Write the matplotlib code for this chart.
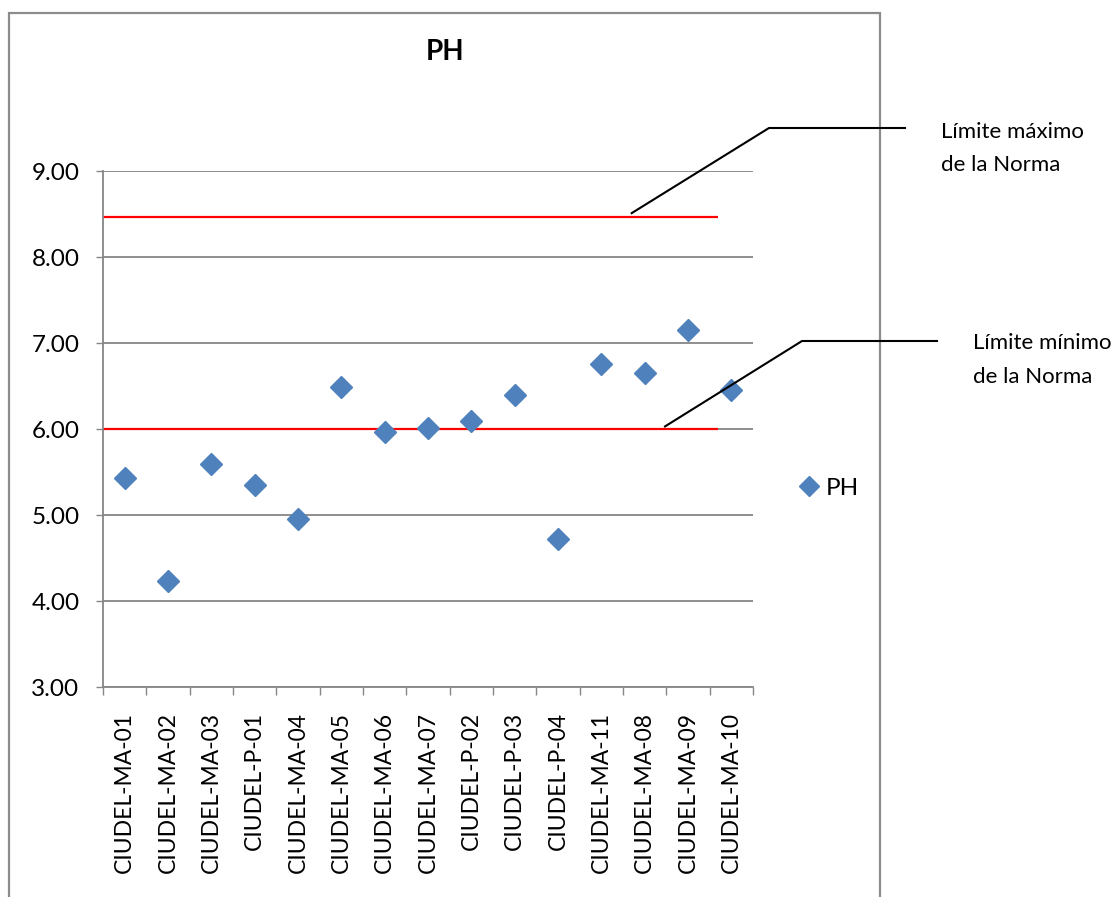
import matplotlib
matplotlib.use("Agg")
import matplotlib.pyplot as plt
from matplotlib.lines import Line2D
from matplotlib.patches import Rectangle

plt.rcParams['font.family'] = ['Lato', 'DejaVu Sans']

# Sampling points and measured pH
stations = ["CIUDEL-MA-01", "CIUDEL-MA-02", "CIUDEL-MA-03", "CIUDEL-P-01",
            "CIUDEL-MA-04", "CIUDEL-MA-05", "CIUDEL-MA-06", "CIUDEL-MA-07",
            "CIUDEL-P-02", "CIUDEL-P-03", "CIUDEL-P-04", "CIUDEL-MA-11",
            "CIUDEL-MA-08", "CIUDEL-MA-09", "CIUDEL-MA-10"]
ph_values = [5.43, 4.23, 5.59, 5.35, 4.95, 6.49, 5.97, 6.01,
             6.09, 6.39, 4.72, 6.75, 6.65, 7.15, 6.45]

# Regulatory limits
limit_max = 8.47
limit_min = 6.00
y_ticks = [3, 4, 5, 6, 7, 8, 9]

W, H = 1116, 897
fig = plt.figure(figsize=(W / 100, H / 100), dpi=100)
fig.patch.set_facecolor('white')

def fx(px):
    return px / W

def fy(py):
    return 1 - py / H

# Chart frame
frame = Rectangle((fx(9), fy(905)), fx(880) - fx(9), fy(13) - fy(905),
                  transform=fig.transFigure, fill=False, edgecolor='#8c8c8c',
                  linewidth=1.6, clip_on=False)
fig.patches.append(frame)

ax = fig.add_axes([fx(103), fy(687), fx(753) - fx(103), fy(171) - fy(687)])
grey = '#868686'
n = len(stations)
xs = [i + 0.5 for i in range(n)]

ax.set_xlim(0, n)
ax.set_ylim(y_ticks[0], y_ticks[-1])
for s in ['top', 'right']:
    ax.spines[s].set_visible(False)
for s in ['left', 'bottom']:
    ax.spines[s].set_color(grey)
    ax.spines[s].set_linewidth(1.3)

ax.set_yticks(y_ticks)
ax.set_yticklabels([f"{v:.2f}" for v in y_ticks])
ax.yaxis.grid(True, color=grey, linewidth=1.3)
ax.set_axisbelow(True)
ax.tick_params(axis='y', direction='out', length=5, width=1.0, color=grey,
               labelsize=17.5, pad=12)

ax.set_xticks(range(n + 1))
ax.set_xticklabels([])
ax.set_xticks(xs, minor=True)
ax.set_xticklabels(stations, minor=True, rotation=90, fontsize=16.5)
ax.tick_params(axis='x', which='major', direction='out', length=6, width=1.0,
               color=grey)
ax.tick_params(axis='x', which='minor', length=0, pad=18)

# Limit lines
ax.hlines([limit_max, limit_min], 0, 14.2, colors='#ff0000', linewidth=1.6,
          zorder=2)

# Measurements
ax.plot(xs, ph_values, linestyle='none', marker='D', markersize=11,
        color='#4f81bd', markeredgecolor='#4f81bd', zorder=3, label='PH',
        clip_on=False)

# Title
fig.text(fx(445), fy(52), "PH", ha='center', va='center', fontsize=20,
         fontweight='bold')

# Legend
leg = fig.legend(handles=[Line2D([], [], linestyle='none', marker='D',
                                 markersize=10, color='#4f81bd')],
                 labels=['PH'], loc='center left',
                 bbox_to_anchor=(fx(799), fy(488)), frameon=False,
                 fontsize=17.5, handlelength=0.8, handletextpad=0.3,
                 borderpad=0, borderaxespad=0)

# Leader lines to the limit labels
def leader(x0, y0, bend_px, end_px):
    sx, sy = fig.transFigure.inverted().transform(ax.transData.transform((x0, y0)))
    line = Line2D([sx, fx(bend_px[0]), fx(end_px[0])],
                  [sy, fy(bend_px[1]), fy(end_px[1])],
                  transform=fig.transFigure, color='black', linewidth=1.5)
    fig.lines.append(line)

leader(12.2, limit_max + 0.04, (769, 128), (905, 128))
leader(12.97, limit_min + 0.03, (802, 341), (937, 341))

fs_note = 16
fig.text(fx(941), fy(132), "Límite máximo", ha='left', va='center', fontsize=fs_note)
fig.text(fx(941), fy(165), "de la Norma", ha='left', va='center', fontsize=fs_note)
fig.text(fx(973), fy(343), "Límite mínimo", ha='left', va='center', fontsize=fs_note)
fig.text(fx(973), fy(377), "de la Norma", ha='left', va='center', fontsize=fs_note)

fig.savefig("out.png", dpi=100, facecolor='white')
